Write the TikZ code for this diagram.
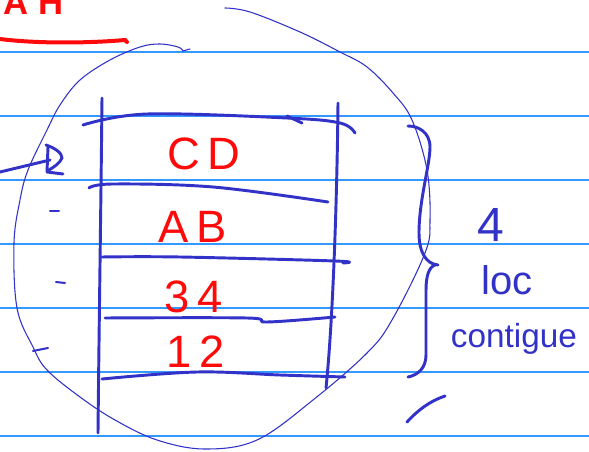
\documentclass[tikz,border=0pt]{standalone}
\usepackage{fontspec}
\setmainfont{Liberation Sans}
\definecolor{rule}{RGB}{51,153,255}
\definecolor{ink}{RGB}{50,50,200}
\definecolor{redink}{RGB}{255,10,10}
\tikzset{
  ruled/.style={rule, line width=1.1pt},
  thick ink/.style={ink, line width=2.2pt, line cap=round, line join=round},
  thin ink/.style={ink, line width=0.8pt, line cap=round},
  red ink/.style={redink, line width=3pt, line cap=round},
  redtxt/.style={text=redink, font=\fontsize{34}{34}\selectfont, anchor=base, inner sep=0pt},
  bluetxt/.style={text=ink, anchor=base, inner sep=0pt},
}
\begin{document}
\begin{tikzpicture}[x=0.75pt,y=-0.75pt]
\useasboundingbox (0,0) rectangle (589,452);
\clip (0,0) rectangle (589,452);
\fill[white] (0,0) rectangle (589,452);
% ruled lines
\foreach \yy in {52,116,180,244,308,372,436}
  \draw[ruled] (0,\yy) -- (589,\yy);
% title (cut off at the top, as in the reference)
\node[text=redink, font=\bfseries\fontsize{26}{26}\selectfont, anchor=base west, inner sep=0pt] (title) at (3,15) {A\kern8pt H};
\draw[red ink] (0,39) .. controls (40,44) and (90,43) .. (125,40) -- (127,42);
% big circle
\draw[thin ink] plot[smooth, tension=0.6] coordinates {(225,8) (250,12) (300,32) (340,52) (367,67) (393,93) (412,120) (427,170) (430,220) (425,253) (392,320) (367,353) (313,400) (257,440) (205,449) (157,440) (115,420) (80,397) (47,370) (33,347) (17,308) (14,243) (20,200) (28,170) (47,130) (60,105) (80,80) (110,60) (140,47) (160,44) (178,47) (183,51)};
\draw[thin ink] (183,51) -- (190,49);
% box verticals
\draw[thick ink] (102,98) .. controls (101,200) and (99,330) .. (98,433);
\draw[thick ink] (338,103) .. controls (337,200) and (333,320) .. (326,388);
% box horizontals
\draw[thick ink] plot[smooth, tension=0.6] coordinates {(83,125) (147,114) (287,118) (340,123) (355,133)};
\draw[thick ink] (287,116) -- (302,123);
\draw[thick ink] plot[smooth, tension=0.6] coordinates {(89,188) (113,184) (213,187) (328,202)};
\draw[thick ink] plot[smooth, tension=0.6] coordinates {(102,257) (180,257) (335,261) (343,263)};
\draw[thick ink] plot[smooth, tension=0.6] coordinates {(105,318) (247,318) (267,322) (335,317)};
\draw[thick ink] plot[smooth, tension=0.6] coordinates {(102,379) (197,372) (280,375) (345,377)};
% cell labels
\node[redtxt] (cd) at (204,170) {C\kern6pt D};
\node[redtxt] (ab) at (193,243) {A\kern6pt B};
\node[redtxt] (n34) at (194,313) {3\kern6pt 4};
\node[redtxt] (n12) at (196,367) {1\kern6pt 2};
% arrow from left
\coordinate (arrstart) at (0,172);
\coordinate (arrtip) at (50,160);
\draw[thick ink] (arrstart) -- (arrtip);
\draw[thick ink] (46,145) .. controls (55,148) and (62,153) .. (62,158) .. controls (60,163) and (54,167) .. (49,170);
\draw[thick ink] (48,147) -- (47,172) -- (63,174);
% small dashes
\draw[ink, line width=1.5pt, line cap=round] (50,211) -- (59,211);
\draw[ink, line width=1.5pt, line cap=round] (56,282) -- (65,283);
\draw[ink, line width=1.5pt, line cap=round] (33,351) -- (48,348);
% brace
\draw[thick ink] (408,126) .. controls (418,126) and (430,132) .. (430,147) .. controls (430,165) and (419,200) .. (419,233) .. controls (419,252) and (426,264) .. (438,265);
\draw[thick ink] (435,265) .. controls (429,267) and (426,276) .. (426,290) -- (426,355) .. controls (426,368) and (418,375) .. (408,377);
% side text
\node[bluetxt, font=\fontsize{36}{36}\selectfont] (four) at (491,242) {4};
\node[bluetxt, font=\fontsize{30}{30}\selectfont] (loc) at (507,295) {loc};
\node[bluetxt, font=\fontsize{25}{25}\selectfont] (contig) at (514,347) {contigue};
% stray stroke
\draw[thick ink] (407,422) .. controls (418,410) and (430,401) .. (445,396);
\end{tikzpicture}
\end{document}
